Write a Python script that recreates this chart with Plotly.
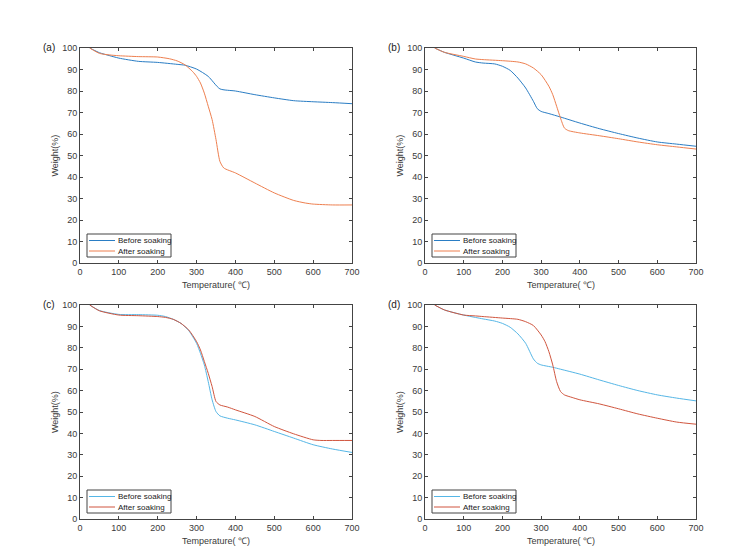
import plotly.graph_objects as go

# ---- data ----
# (a)
a_before_T = [25, 50, 75, 100, 150, 200, 250, 270, 300, 330, 360, 400, 450, 500, 550, 600, 650, 700]
a_before_W = [100, 97.8, 96.5, 95.3, 93.8, 93.3, 92.4, 92.0, 90.2, 86.8, 81.0, 80.0, 78.3, 76.8, 75.5, 75.0, 74.6, 74.1]
a_after_T = [25, 50, 75, 100, 150, 200, 230, 250, 270, 290, 300, 310, 320, 330, 340, 350, 360, 370, 400, 450, 500, 550, 580, 600, 650, 700]
a_after_W = [100, 97.5, 96.8, 96.4, 96.0, 95.8, 95.0, 94.0, 92.2, 89.0, 86.8, 83.7, 79.0, 72.9, 66.7, 57.4, 47.3, 44.2, 41.9, 37.2, 32.6, 29.1, 27.9, 27.4, 27.0, 27.0]
# (b)
b_before_T = [25, 50, 100, 130, 150, 180, 200, 220, 240, 260, 280, 290, 300, 320, 350, 400, 450, 500, 550, 600, 650, 700]
b_before_W = [100, 98.0, 95.3, 93.5, 93.0, 92.6, 91.5, 89.6, 86.0, 81.4, 75.2, 71.8, 70.5, 69.5, 67.9, 65.1, 62.5, 60.2, 58.1, 56.3, 55.3, 54.3]
b_after_T = [25, 50, 100, 130, 150, 200, 240, 260, 280, 300, 320, 330, 340, 350, 360, 370, 400, 450, 500, 550, 600, 650, 700]
b_after_W = [100, 98.0, 96.1, 94.9, 94.6, 94.1, 93.5, 92.6, 90.7, 87.6, 82.2, 78.3, 72.9, 67.4, 62.8, 61.6, 60.5, 59.2, 57.8, 56.3, 55.0, 54.0, 53.0]
# (c)
c_before_T = [25, 50, 100, 150, 200, 220, 240, 260, 280, 300, 310, 320, 330, 340, 350, 360, 380, 400, 450, 500, 550, 600, 650, 700]
c_before_W = [100, 97.4, 95.6, 95.5, 95.2, 94.6, 93.3, 91.4, 88.0, 82.1, 77.4, 72.0, 64.2, 55.7, 50.2, 48.2, 47.1, 46.3, 44.0, 40.9, 37.8, 34.7, 32.7, 31.1]
c_after_T = [25, 50, 100, 150, 200, 220, 240, 260, 280, 300, 310, 320, 330, 340, 350, 360, 380, 400, 450, 500, 550, 600, 620, 650, 700]
c_after_W = [100, 97.3, 95.3, 95.0, 94.6, 94.2, 93.3, 91.4, 88.3, 82.9, 79.0, 73.6, 68.1, 61.9, 54.9, 53.3, 52.3, 51.0, 47.9, 43.2, 39.8, 37.0, 36.7, 36.7, 36.7]
# (d)
d_before_T = [25, 50, 100, 130, 150, 180, 200, 220, 240, 260, 280, 290, 300, 330, 350, 400, 450, 500, 550, 600, 650, 700]
d_before_W = [100, 97.7, 95.3, 94.2, 93.5, 92.5, 91.4, 89.6, 86.5, 82.1, 74.8, 72.8, 72.0, 70.9, 70.0, 67.7, 65.0, 62.4, 60.0, 58.0, 56.5, 55.2]
d_after_T = [25, 50, 100, 130, 150, 200, 240, 260, 280, 300, 310, 320, 330, 340, 350, 360, 380, 400, 450, 500, 550, 600, 650, 700]
d_after_W = [100, 97.7, 95.3, 94.9, 94.6, 93.9, 93.3, 92.2, 90.4, 86.0, 82.9, 78.2, 72.0, 64.2, 59.6, 58.0, 56.8, 55.7, 53.8, 51.5, 49.1, 47.1, 45.3, 44.3]

series_names = ["Before soaking", "After soaking"]
panel_labels = ["(a)", "(b)", "(c)", "(d)"]
x_ticks = [0, 100, 200, 300, 400, 500, 600, 700]
y_ticks = [0, 10, 20, 30, 40, 50, 60, 70, 80, 90, 100]
x_title = "Temperature( ℃)"
y_title = "Weight(%)"

panels = [
    (a_before_T, a_before_W, a_after_T, a_after_W),
    (b_before_T, b_before_W, b_after_T, b_after_W),
    (c_before_T, c_before_W, c_after_T, c_after_W),
    (d_before_T, d_before_W, d_after_T, d_after_W),
]
colors = [("#2A7DC4", "#EE7F4F"), ("#2A7DC4", "#EE7F4F"),
          ("#55B6E6", "#D0553E"), ("#55B6E6", "#D0553E")]

# page body has an 8px margin, so the figure is drawn 8px in from the window's corner
OFF = 8
W, H = 746 - OFF, 550 - OFF
xdoms = [(80, 352), (425, 696)]   # window pixels
ydoms = [(48, 263), (305, 519)]

fig = go.Figure()
font = "Liberation Sans, Arial, sans-serif"
txtcol = "#3a3a3a"
tickfont = dict(family=font, size=9, color=txtcol)


def px(x):
    return (x - OFF) / W


def py(y):
    return 1 - (y - OFF) / H


for i, (bt, bw, at, aw) in enumerate(panels):
    col, row = i % 2, i // 2
    ax = "" if i == 0 else str(i + 1)
    cb, ca = colors[i]
    fig.add_trace(go.Scatter(x=bt, y=bw, mode="lines", name=series_names[0],
                             line=dict(color=cb, width=1.0, shape="spline", smoothing=0.6),
                             xaxis="x" + ax, yaxis="y" + ax, showlegend=False))
    fig.add_trace(go.Scatter(x=at, y=aw, mode="lines", name=series_names[1],
                             line=dict(color=ca, width=1.0, shape="spline", smoothing=0.6),
                             xaxis="x" + ax, yaxis="y" + ax, showlegend=False))
    x0, x1 = xdoms[col]
    y0, y1 = ydoms[row]
    axis_common = dict(showline=True, linecolor="#444444", linewidth=1, mirror="ticks",
                       ticks="inside", ticklen=3, tickcolor="#444444", showgrid=False,
                       zeroline=False, tickfont=tickfont, automargin=False)
    fig.layout["xaxis" + ax] = dict(domain=[px(x0), px(x1)], range=[0, 700],
                                    tickvals=x_ticks, anchor="y" + ax, **axis_common)
    fig.layout["yaxis" + ax] = dict(domain=[py(y1), py(y0)], range=[0, 100],
                                    tickvals=y_ticks, anchor="x" + ax, **axis_common)
    # axis titles
    fig.add_annotation(text=x_title, x=px((x0 + x1) / 2), y=py(y1 + 22), xref="paper", yref="paper",
                       showarrow=False, xanchor="center", yanchor="middle",
                       font=dict(family=font, size=9, color=txtcol))
    fig.add_annotation(text=y_title, x=px(x0 - 25), y=py((y0 + y1) / 2), xref="paper", yref="paper",
                       showarrow=False, xanchor="center", yanchor="middle", textangle=-90,
                       font=dict(family=font, size=9, color=txtcol))
    # panel label
    fig.add_annotation(text=panel_labels[i], x=px(x0 - 39), y=py(y0 - 1),
                       xref="paper", yref="paper", showarrow=False,
                       xanchor="left", yanchor="middle",
                       font=dict(family=font, size=10, color="#222222"))
    # legend box (drawn manually, matching the compact MATLAB legend)
    lx0, lx1 = x0 + 7, x0 + 91
    ly0, ly1 = y1 - 29, y1 - 6
    fig.add_shape(type="rect", xref="paper", yref="paper",
                  x0=px(lx0), x1=px(lx1), y0=py(ly1), y1=py(ly0),
                  line=dict(color="#444444", width=1), fillcolor="white", layer="above")
    for k, (name, c) in enumerate(zip(series_names, (cb, ca))):
        yy = ly0 + 6.5 + k * 10.5
        fig.add_shape(type="line", xref="paper", yref="paper",
                      x0=px(lx0 + 2), x1=px(lx0 + 28), y0=py(yy), y1=py(yy),
                      line=dict(color=c, width=1.0), layer="above")
        fig.add_annotation(text=name, x=px(lx0 + 29), y=py(yy), xref="paper", yref="paper",
                           showarrow=False, xanchor="left", yanchor="middle",
                           font=dict(family=font, size=8, color="#222222"))

fig.update_layout(width=W, height=H, margin=dict(l=0, r=0, t=0, b=0),
                  plot_bgcolor="white", paper_bgcolor="white", showlegend=False)

fig.write_html("out.html")
